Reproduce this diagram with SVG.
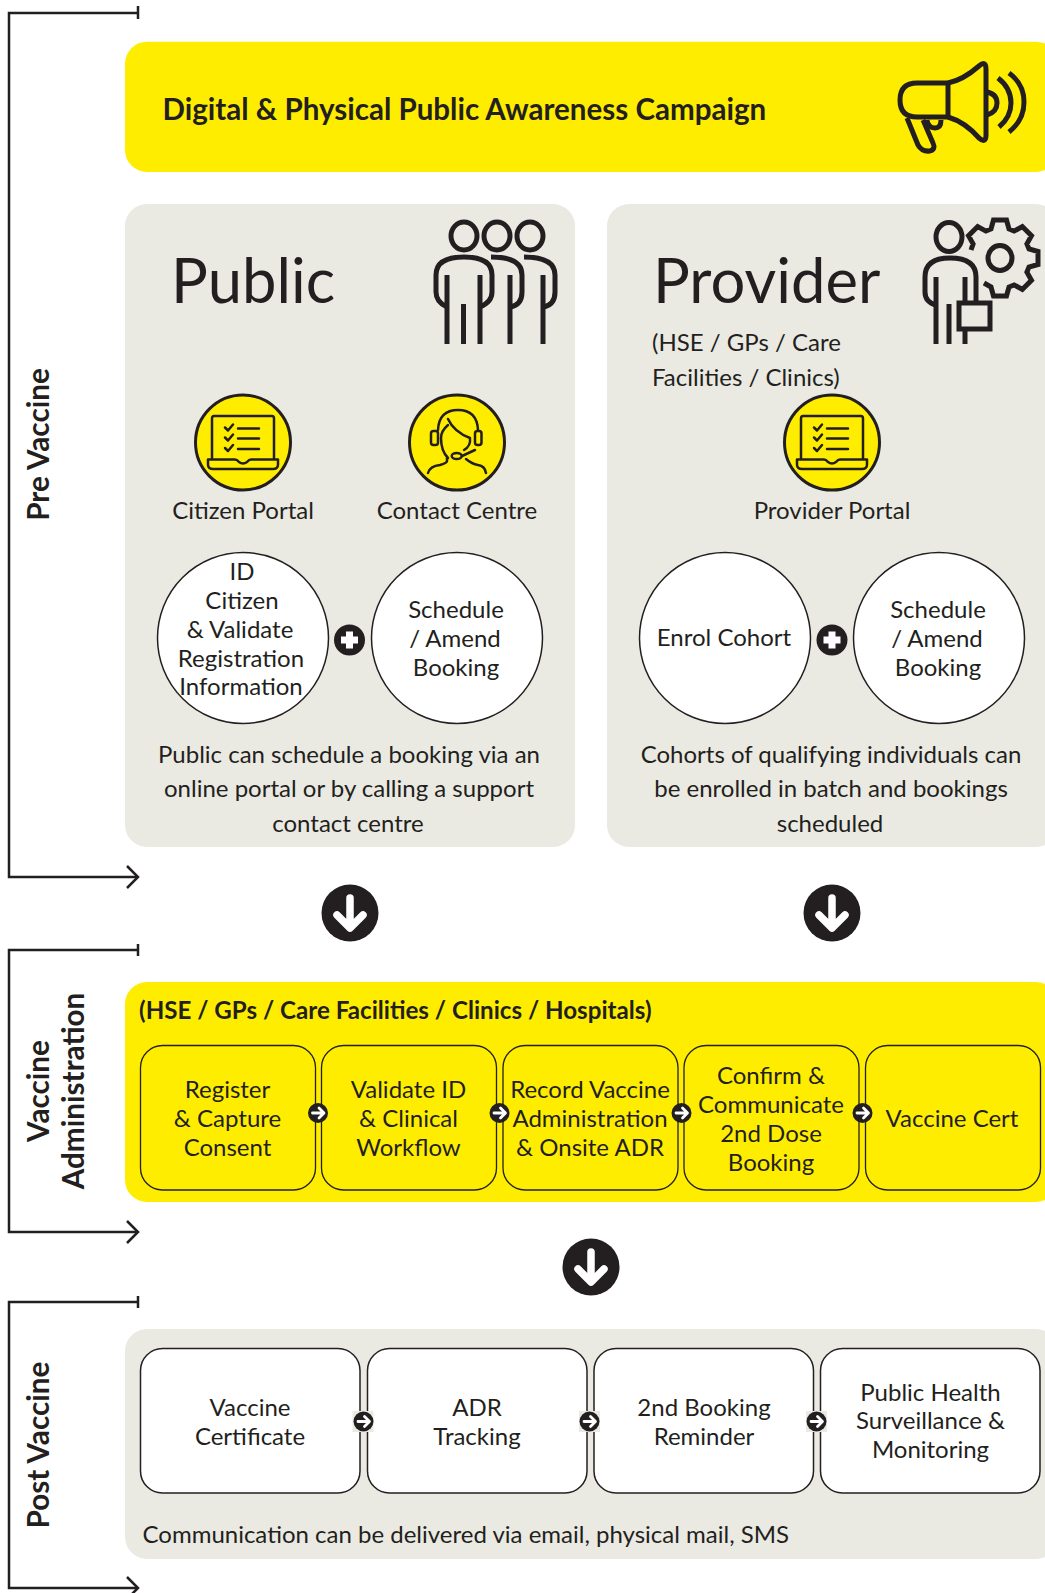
<svg xmlns="http://www.w3.org/2000/svg" width="1045" height="1593" viewBox="0 0 1045 1593">
<style>
text{font-family:Lato,"Open Sans","Liberation Sans",sans-serif;fill:#231f20;font-size:24px;text-anchor:middle}
.s{text-anchor:start}
.b{font-weight:700}
.t{font-size:24.150px}
.lab{font-weight:700;font-size:29.700px}
.big{font-size:61.500px;text-anchor:start}
.ico{fill:none;stroke:#231f20;stroke-width:5}
.ic2{fill:none;stroke:#231f20;stroke-width:2.5;stroke-linecap:round;stroke-linejoin:round}
.br{fill:none;stroke:#231f20;stroke-width:2.5}
.y{fill:#ffed00}
.g{fill:#eaeae2}
.bx{stroke:#231f20;stroke-width:1.3}
.cw{fill:#fff;stroke:#231f20;stroke-width:1.5}
.cy{fill:#ffed00;stroke:#231f20;stroke-width:3}
.d{fill:#231f20}
.wl{fill:none;stroke:#fff;stroke-width:7.500;stroke-linecap:round;stroke-linejoin:round}
.wa{fill:none;stroke:#fff;stroke-width:2.800;stroke-linecap:round;stroke-linejoin:round}
</style>
<defs>
<g id="laptop" class="ic2">
<path d="M-31 16V-24Q-31 -26.500 -29 -26.500H29Q31 -26.500 31 -24V16"/>
<path d="M-35 17H-8Q-6 17 -4 19.500Q-2 21 0 21Q2 21 4 19.500Q6 17 8 17H35V22Q35 26.500 30 26.500H-30Q-35 26.500 -35 22Z"/>
<path d="M-18 -15l3 3 5 -6M-18 -5l3 3 5 -6M-18 5.500l3 3 5 -6"/>
<path d="M-5 -14H16M-5 -4H16M-5 6.500H16"/>
</g>
<g id="arr"><circle r="10" class="d"/><path class="wa" d="M-5.500 0H5M1 -5L6 0L1 5"/></g>
<g id="down"><circle r="28.500" class="d"/><path class="wl" d="M0 -15V13M-13 2L0 15L13 2"/></g>
<g id="plus"><circle r="15.500" class="d"/><path d="M0 -8.500V8.500M-8.500 0H8.500" fill="none" stroke="#fff" stroke-width="7"/></g>
<path id="bh" d="M-11 -11L0 0L-11 11" class="br"/>
</defs>

<g id="connectors">
<path class="br" d="M138 13H9V877H138M138 6V19"/><use href="#bh" x="138" y="877"/>
<path class="br" d="M138 950H9V1232H138M138 944V956"/><use href="#bh" x="138" y="1232"/>
<path class="br" d="M138 1302H9V1588H138M138 1296V1308"/><use href="#bh" x="138" y="1588"/>
<use href="#down" x="350" y="913"/>
<use href="#down" x="832" y="913"/>
<use href="#down" x="591" y="1267"/>
</g>

<g id="pre-vaccine-label"><text class="lab" transform="translate(49 444.500) rotate(-90)">Pre Vaccine</text></g>
<g id="vaccine-admin-label"><text class="lab" transform="translate(49 1091) rotate(-90)">Vaccine</text><text class="lab" transform="translate(84 1091) rotate(-90)">Administration</text></g>
<g id="post-vaccine-label"><text class="lab" transform="translate(49 1445) rotate(-90)">Post Vaccine</text></g>

<g id="campaign">
<rect class="y" x="125" y="41.700" width="933" height="130.300" rx="22"/>
<text class="b s" x="162.500" y="120" style="font-size:29.550px">Digital &amp; Physical Public Awareness Campaign</text>
<g class="ico" stroke-linejoin="round">
<path d="M948 83H917Q900 83 900 100Q900 117 917 117H948Z"/>
<path d="M948 83Q963 80 979 66Q986 60 986 69V135Q986 144 979 138Q965 122 948 117"/>
<path d="M987 92Q997 94 997 103Q997 112 987 115"/>
<path d="M998 78Q1011 88 1011 103Q1011 117 999 127"/>
<path d="M1009 73Q1024 84 1024 102Q1024 120 1009 132"/>
<path d="M907 118L918 145Q922 152 930 151Q936 149 933 143L923 120"/>
<path d="M927 120Q928 128 935 128Q941 128 941 120"/>
</g>
</g>

<g id="public">
<rect class="g" x="125" y="204" width="450" height="643" rx="22"/>
<text class="big" x="171" y="303">Public</text>
<g class="ico">
<ellipse cx="464" cy="236" rx="13" ry="14"/><ellipse cx="497" cy="236" rx="13" ry="14"/><ellipse cx="530" cy="236" rx="13" ry="14"/>
<path d="M447 307Q436 302 436 292V275Q436 257 464 257Q492 257 492 275V292Q492 302 480 307"/>
<path d="M491 257Q522 257 522 275V292Q522 305 510 307"/>
<path d="M524 257Q555 257 555 275V292Q555 305 543 307"/>
<path d="M447 275V344M463.500 304V344M480 275V344M510 275V344M543 275V344"/>
</g>
<g id="citizen-portal">
<circle class="cy" cx="243" cy="442.500" r="47.500"/><use href="#laptop" x="243" y="442.500"/>
<text x="243" y="519">Citizen Portal</text>
</g>
<g id="contact-centre">
<circle class="cy" cx="457" cy="442.500" r="47.500"/>
<g class="ic2">
<path d="M438 430Q439 410 458 410Q477 410 478 430"/>
<path d="M448 419Q454 432 470 438Q471 446 464 450"/>
<path d="M448 425Q441 431 441 438Q441 451 448 458"/>
<rect x="431" y="431" width="7" height="14" rx="2.500"/><rect x="475" y="431" width="6.500" height="14" rx="2.500"/>
<ellipse cx="456.700" cy="456" rx="5" ry="3"/>
<path d="M462 456L475 450"/>
<path d="M447 458V461Q447 463 440 465Q430 466 428 473"/>
<path d="M466 459Q472 464 478 465Q485 466 486 473"/>
</g>
<text x="457" y="519">Contact Centre</text>
</g>
<g id="id-citizen">
<circle class="cw" cx="243" cy="638" r="85.500"/>
<text x="242" y="580">ID</text><text x="242" y="609">Citizen</text><text x="240" y="638">&amp; Validate</text><text x="241" y="667">Registration</text><text x="241" y="695">Information</text>
</g>
<g id="schedule-public">
<circle class="cw" cx="457" cy="638" r="85.500"/>
<text x="456" y="618">Schedule</text><text x="455" y="647">/ Amend</text><text x="456" y="676">Booking</text>
</g>
<use href="#plus" x="349.500" y="640"/>
<text x="349" y="763">Public can schedule a booking via an</text><text x="349" y="797">online portal or by calling a support</text><text x="348" y="832">contact centre</text>
</g>

<g id="provider">
<rect class="g" x="607" y="204" width="451" height="643" rx="22"/>
<text class="big" x="653" y="303">Provider</text>
<text class="s" x="652" y="351">(HSE / GPs / Care</text><text class="s" x="652" y="386">Facilities / Clinics)</text>
<g class="ico">
<ellipse cx="949" cy="237" rx="13" ry="14.500"/>
<path d="M936 305Q925 302 925 292V277Q925 258 950 258Q976 258 976 277V303"/>
<path d="M936 277V344M949 304V344M965 277V303M965 329V344"/>
<rect x="959" y="303" width="31" height="26"/>
<path d="M971 250L973.100 243.900L968.500 235.700L977.700 226.500L985.900 231.100L991 229L993.500 220H1006.500L1009 229L1014.100 231.100L1022.300 226.500L1031.500 235.700L1026.900 243.900L1029 249L1038 251.500V264.500L1029 267L1026.900 272.100L1031.500 280.300L1022.300 289.500L1014.100 284.900L1009 287L1006.500 296H993.500L991 287L984 283"/>
<ellipse cx="1000" cy="258" rx="12" ry="12.500"/>
</g>
<g id="provider-portal">
<circle class="cy" cx="832" cy="442.500" r="47.500"/><use href="#laptop" x="832" y="442.500"/>
<text x="832" y="519">Provider Portal</text>
</g>
<g id="enrol">
<circle class="cw" cx="725" cy="638" r="85.500"/><text x="724" y="646">Enrol Cohort</text>
</g>
<g id="schedule-provider">
<circle class="cw" cx="939" cy="638" r="85.500"/>
<text x="938" y="618">Schedule</text><text x="937" y="647">/ Amend</text><text x="938" y="676">Booking</text>
</g>
<use href="#plus" x="832" y="640"/>
<text x="831" y="763">Cohorts of qualifying individuals can</text><text x="831" y="797">be enrolled in batch and bookings</text><text x="830" y="832">scheduled</text>
</g>

<g id="administration">
<rect class="y" x="125" y="982" width="933" height="220" rx="22"/>
<text class="b s t" x="139" y="1019">(HSE / GPs / Care Facilities / Clinics / Hospitals)</text>
<g id="a1"><rect class="y bx" x="140.500" y="1045.500" width="175" height="144.500" rx="22"/><text x="227.500" y="1098">Register</text><text x="227.500" y="1127">&amp; Capture</text><text x="227.500" y="1156">Consent</text></g>
<g id="a2"><rect class="y bx" x="321.500" y="1045.500" width="175" height="144.500" rx="22"/><text x="408.500" y="1098">Validate ID</text><text x="408.500" y="1127">&amp; Clinical</text><text x="408.500" y="1156">Workflow</text></g>
<g id="a3"><rect class="y bx" x="503" y="1045.500" width="175" height="144.500" rx="22"/><text x="590" y="1098">Record Vaccine</text><text x="590" y="1127">Administration</text><text x="590" y="1156">&amp; Onsite ADR</text></g>
<g id="a4"><rect class="y bx" x="684" y="1045.500" width="175" height="144.500" rx="22"/><text x="771" y="1084">Confirm &amp;</text><text x="771" y="1113">Communicate</text><text x="771" y="1142">2nd Dose</text><text x="771" y="1171">Booking</text></g>
<g id="a5"><rect class="y bx" x="865.500" y="1045.500" width="175" height="144.500" rx="22"/><text x="952" y="1127">Vaccine Cert</text></g>
<use href="#arr" x="318" y="1113"/><use href="#arr" x="499.500" y="1113"/><use href="#arr" x="681.500" y="1113"/><use href="#arr" x="862.500" y="1113"/>
</g>

<g id="post">
<rect class="g" x="125" y="1329" width="933" height="230" rx="22"/>
<g id="p1"><rect class="cw bx" x="140.500" y="1348.500" width="219.500" height="144.500" rx="22"/><text x="250" y="1416">Vaccine</text><text x="250" y="1445">Certificate</text></g>
<g id="p2"><rect class="cw bx" x="367.500" y="1348.500" width="219.500" height="144.500" rx="22"/><text x="477" y="1416">ADR</text><text x="477" y="1445">Tracking</text></g>
<g id="p3"><rect class="cw bx" x="594" y="1348.500" width="219.500" height="144.500" rx="22"/><text x="704" y="1416">2nd Booking</text><text x="704" y="1445">Reminder</text></g>
<g id="p4"><rect class="cw bx" x="820.500" y="1348.500" width="219.500" height="144.500" rx="22"/><text x="930.500" y="1401">Public Health</text><text x="930.500" y="1429">Surveillance &amp;</text><text x="930.500" y="1458">Monitoring</text></g>
<rect class="g" x="352.500" y="1411" width="21" height="21"/><rect class="g" x="579" y="1411" width="21" height="21"/><rect class="g" x="806" y="1411" width="21" height="21"/>
<use href="#arr" x="363.500" y="1421.500"/><use href="#arr" x="589.500" y="1421.500"/><use href="#arr" x="816.500" y="1421.500"/>
<text class="s" x="142.500" y="1542.500">Communication can be delivered via email, physical mail, SMS</text>
</g>
</svg>
